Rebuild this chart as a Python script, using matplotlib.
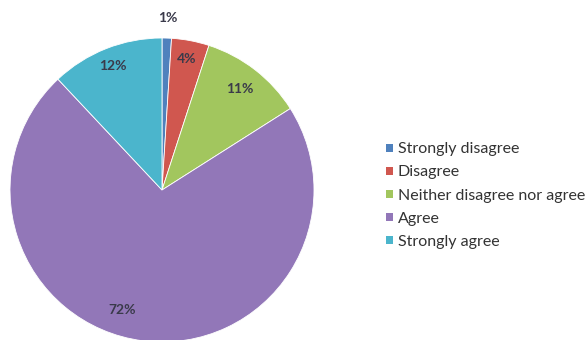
import numpy as np
import matplotlib
matplotlib.use("Agg")
import matplotlib.pyplot as plt
from matplotlib.patches import Patch

# survey responses (percent)
labels = ["Strongly disagree", "Disagree", "Neither disagree nor agree", "Agree", "Strongly agree"]
values = [1, 4, 11, 72, 12]
colors = ["#4F81BD", "#D0574F", "#A2C65E", "#9277B8", "#4BB5CC"]

# distance of each % label from the centre (fraction of radius)
label_dist = [1.13, 0.88, 0.84, 0.83, 0.88]

plt.rcParams['font.family'] = ['Lato', 'DejaVu Sans']

fig = plt.figure(figsize=(5.85, 3.4), dpi=100)
fig.patch.set_facecolor("white")

W, H = 585, 340
cx, cy, r = 162, 190, 152
ax = fig.add_axes([(cx - r) / W, (H - cy - r) / H, 2 * r / W, 2 * r / H])

wedges, _ = ax.pie(
    values,
    colors=colors,
    startangle=90,
    counterclock=False,
    radius=1,
    wedgeprops=dict(edgecolor="white", linewidth=0.6),
)
for w in wedges:
    w.set_clip_on(False)

# percentage labels
total = sum(values)
start = 0
for i, v in enumerate(values):
    mid = (start + v / 2) / total
    start += v
    ang = np.deg2rad(90 - mid * 360)
    if i == 3:
        ang -= np.deg2rad(11)
    d = label_dist[i]
    ax.text(d * np.cos(ang), d * np.sin(ang), f"{v}%", ha="center", va="center",
            fontsize=10, fontweight="bold", color="#3a3a4a")

ax.set_xlim(-1, 1)
ax.set_ylim(-1, 1)
ax.set_aspect("equal")
ax.axis("off")

handles = [Patch(facecolor=c, edgecolor="none") for c in colors]
fig.legend(handles, labels, loc="upper left", bbox_to_anchor=(372 / W, 1 - 128 / H),
           frameon=False, fontsize=11.5, handlelength=0.4, handleheight=0.4,
           handletextpad=0.3, labelspacing=0.57, labelcolor="#333333")

fig.savefig("out.png", dpi=100)
